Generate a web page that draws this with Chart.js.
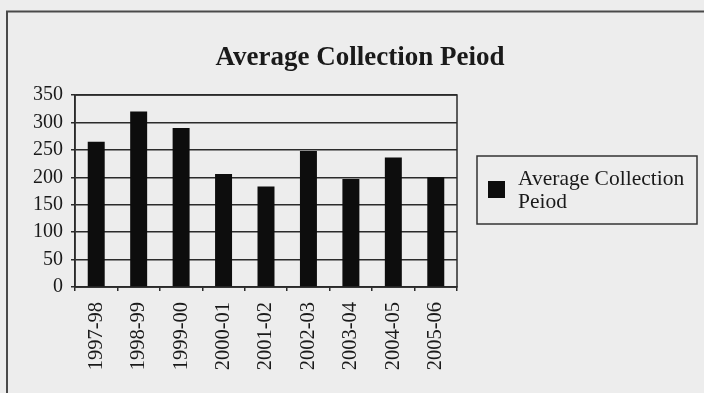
<!DOCTYPE html>
<html>
<head>
<meta charset="utf-8">
<script src="https://cdn.jsdelivr.net/npm/chart.js@4/dist/chart.umd.min.js"></script>
<style>
  html, body { margin: 0; padding: 0; background: #ededed; overflow: hidden; }
  canvas { display: block; }
</style>
</head>
<body>
<canvas id="chart" width="704" height="393"></canvas>
<script>
// Fiscal years and average collection period (days)
const periods = ['1997-98', '1998-99', '1999-00', '2000-01', '2001-02', '2002-03', '2003-04', '2004-05', '2005-06'];
const collectionDays = [265, 320, 290, 206, 183, 248, 197, 236, 200];
const yTickValues = [0, 50, 100, 150, 200, 250, 300, 350];
const seriesName = 'Average Collection Peiod';
const legendLines = ['Average Collection', 'Peiod'];

const SERIF = "'Liberation Serif', 'Times New Roman', serif";
const INK = '#1a1a1a';
const LINE = '#2b2b2b';
const PAPER = '#ededed';

// Page background and the outer frame lines
const paperFrame = {
  id: 'paperFrame',
  beforeDraw(chart) {
    const ctx = chart.ctx;
    ctx.save();
    ctx.fillStyle = PAPER;
    ctx.fillRect(0, 0, chart.width, chart.height);
    ctx.strokeStyle = '#4a4a4a';
    ctx.lineWidth = 2;
    ctx.beginPath();
    ctx.moveTo(7, chart.height);
    ctx.lineTo(7, 11.5);
    ctx.lineTo(chart.width, 11.5);
    ctx.stroke();
    ctx.restore();
  },
  // Box round the plot area
  beforeDatasetsDraw(chart) {
    const a = chart.chartArea;
    const ctx = chart.ctx;
    ctx.save();
    ctx.strokeStyle = LINE;
    ctx.lineWidth = 1.5;
    ctx.strokeRect(a.left, a.top, a.right - a.left, a.bottom - a.top);
    ctx.restore();
  }
};

// Boxed legend on the right, laid out as its own layout box
const boxedLegend = {
  id: 'boxedLegend',
  beforeInit(chart) {
    const box = {
      position: 'right',
      weight: 0,
      fullSize: false,
      options: {},
      left: 0, top: 0, right: 0, bottom: 0, width: 0, height: 0,
      isHorizontal() { return false; },
      getPadding() { return { left: 0, right: 0, top: 0, bottom: 0 }; },
      update(maxWidth, maxHeight) {
        this.width = 247;
        this.height = maxHeight;
      },
      draw() {
        const ctx = chart.ctx;
        const area = chart.chartArea;
        const w = 220, h = 68;
        const x = this.left + 20;
        const y = Math.round((area.top + area.bottom) / 2 - 1 - h / 2);
        const ds = chart.data.datasets[0];
        ctx.save();
        ctx.strokeStyle = '#333';
        ctx.lineWidth = 1.5;
        ctx.strokeRect(x, y, w, h);
        ctx.fillStyle = ds.backgroundColor;
        ctx.fillRect(x + 11, y + 25, 17, 17);
        ctx.fillStyle = INK;
        ctx.font = '21.5px ' + SERIF;
        ctx.textBaseline = 'alphabetic';
        ctx.textAlign = 'left';
        legendLines.forEach((line, i) => ctx.fillText(line, x + 41, y + 29 + i * 23));
        ctx.restore();
      }
    };
    Chart.layouts.addBox(chart, box);
  }
};

new Chart(document.getElementById('chart'), {
  type: 'bar',
  data: {
    labels: periods,
    datasets: [{
      label: seriesName,
      data: collectionDays,
      backgroundColor: '#0d0d0d',
      borderWidth: 0,
      barPercentage: 0.4,
      categoryPercentage: 1.0
    }]
  },
  options: {
    responsive: false,
    devicePixelRatio: 1,
    animation: false,
    layout: { padding: { left: 16, right: 0, top: 0, bottom: 0 } },
    plugins: {
      legend: { display: false },
      tooltip: { enabled: false },
      title: {
        display: true,
        text: seriesName,
        color: INK,
        font: { family: SERIF, size: 27, weight: 'bold', lineHeight: 1.2 },
        padding: { top: 42, bottom: 20.6 }
      }
    },
    scales: {
      x: {
        afterFit(scale) { scale.height = 106; },
        grid: { drawOnChartArea: false, drawTicks: true, tickLength: 4, color: LINE, lineWidth: 1.5 },
        border: { display: true, color: LINE, width: 1.5 },
        ticks: {
          minRotation: 90, maxRotation: 90, autoSkip: false,
          padding: 11,
          color: INK,
          font: { family: SERIF, size: 20.5 }
        }
      },
      y: {
        min: 0,
        max: 350,
        afterFit(scale) { scale.width = 59; },
        afterBuildTicks(scale) { scale.ticks = yTickValues.map(v => ({ value: v })); },
        grid: { drawTicks: true, tickLength: 4, color: LINE, lineWidth: 1.5 },
        border: { display: true, color: LINE, width: 1.5 },
        ticks: {
          padding: 8,
          color: INK,
          font: { family: SERIF, size: 20 }
        }
      }
    }
  },
  plugins: [paperFrame, boxedLegend]
});
</script>
</body>
</html>
